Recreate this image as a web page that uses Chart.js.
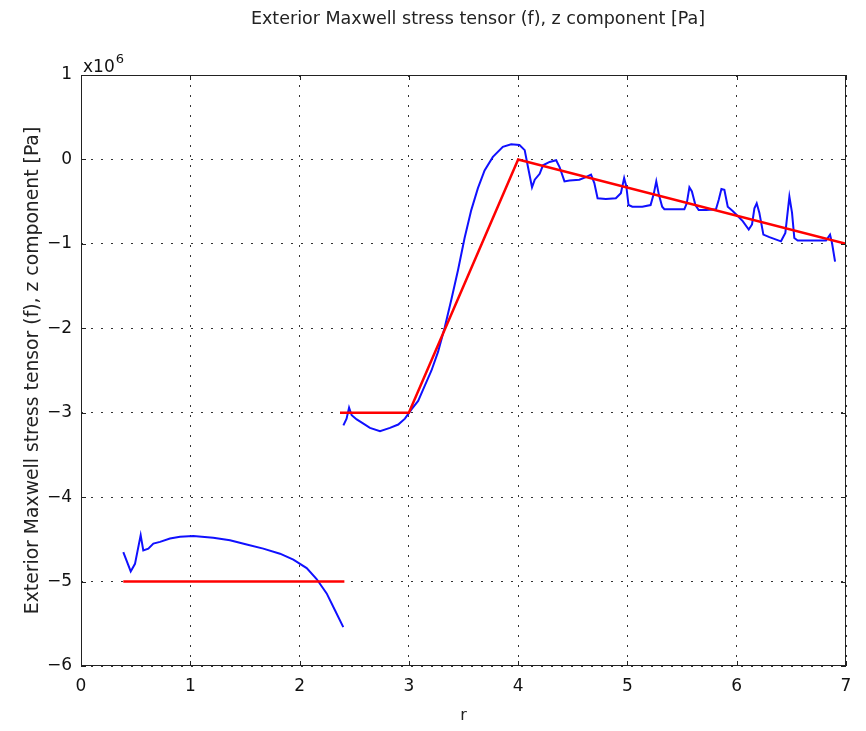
<!DOCTYPE html>
<html>
<head>
<meta charset="utf-8">
<script src="https://cdn.jsdelivr.net/npm/chart.js@4/dist/chart.umd.min.js"></script>
<style>
  html, body { margin: 0; padding: 0; background: #fff; }
  #wrap { width: 866px; height: 731px; }
</style>
</head>
<body>
<div id="wrap"><canvas id="chart" width="866" height="731"></canvas></div>
<script>
// values in units of 1e6 Pa (axis shows x10^6)
const blueR1 = [0.387, 0.455, 0.494, 0.546, 0.570, 0.616, 0.662, 0.723, 0.814, 0.906, 1.027, 1.21, 1.363, 1.516, 1.668, 1.821, 1.943, 2.065, 2.156, 2.248, 2.324, 2.40];
const blueZ1 = [-4.65, -4.88, -4.79, -4.45, -4.63, -4.61, -4.55, -4.53, -4.49, -4.47, -4.46, -4.48, -4.51, -4.56, -4.61, -4.67, -4.74, -4.84, -4.97, -5.14, -5.34, -5.54];

const blueR2 = [2.401, 2.43, 2.453, 2.477, 2.523, 2.584, 2.644, 2.736, 2.827, 2.903, 2.964, 3.024, 3.085, 3.146, 3.207, 3.267, 3.328, 3.389, 3.45, 3.51, 3.571, 3.632, 3.693, 3.769, 3.86, 3.936, 4.012,
  4.06, 4.09, 4.127, 4.152, 4.197, 4.227, 4.288, 4.348, 4.379, 4.424, 4.47, 4.56, 4.62, 4.667, 4.697, 4.727, 4.803, 4.894, 4.94, 4.97, 4.99, 5.01, 5.045, 5.136, 5.212, 5.242, 5.264, 5.288, 5.318,
  5.338, 5.415, 5.521, 5.543, 5.567, 5.59, 5.622, 5.652, 5.72, 5.81, 5.835, 5.86, 5.887, 5.918, 5.963, 6.009, 6.055, 6.11, 6.14, 6.162, 6.183, 6.207, 6.244, 6.299, 6.405, 6.445, 6.482, 6.506, 6.527, 6.558, 6.665, 6.817, 6.854, 6.872, 6.90];
const blueZ2 = [-3.15, -3.07, -2.94, -3.03, -3.08, -3.13, -3.18, -3.22, -3.18, -3.14, -3.07, -2.96, -2.86, -2.68, -2.50, -2.28, -1.99, -1.66, -1.31, -0.93, -0.60, -0.34, -0.13, 0.03, 0.15, 0.18, 0.17,
  0.11, -0.09, -0.33, -0.24, -0.17, -0.07, -0.03, -0.01, -0.09, -0.26, -0.25, -0.24, -0.21, -0.18, -0.28, -0.46, -0.47, -0.46, -0.40, -0.22, -0.32, -0.54, -0.56, -0.56, -0.54, -0.40, -0.26, -0.42, -0.56,
  -0.59, -0.59, -0.59, -0.52, -0.33, -0.38, -0.54, -0.60, -0.60, -0.59, -0.48, -0.35, -0.36, -0.56, -0.61, -0.67, -0.73, -0.83, -0.77, -0.58, -0.52, -0.63, -0.89, -0.92, -0.97, -0.87, -0.44, -0.63, -0.93, -0.96, -0.96, -0.96, -0.89, -0.99, -1.21];

const redR1 = [0.387, 2.41];
const redZ1 = [-5, -5];
const redR2 = [2.37, 3, 4, 7];
const redZ2 = [-3, -3, 0, -1];

const xTicks = [0, 1, 2, 3, 4, 5, 6, 7];
const yTicks = [1, 0, -1, -2, -3, -4, -5, -6];

const titleText = 'Exterior Maxwell stress tensor (f), z component [Pa]';
const FONT = "'DejaVu Sans', sans-serif";

function pts(xs, ys) {
    return xs.map((x, i) => ({ x: x, y: ys[i] }));
}

// title, box, inward ticks and the x10^6 multiplier
const frame = {
    id: 'frame',
    afterDraw(chart) {
        const { ctx, chartArea: a, scales } = chart;
        ctx.save();
        ctx.strokeStyle = '#222';
        ctx.lineWidth = 1;
        ctx.strokeRect(a.left + 0.5, a.top + 0.5, a.right - a.left - 1, a.bottom - a.top - 1);
        ctx.beginPath();
        xTicks.forEach(v => {
            const px = Math.round(scales.x.getPixelForValue(v)) + 0.5;
            ctx.moveTo(px, a.bottom); ctx.lineTo(px, a.bottom - 5);
            ctx.moveTo(px, a.top); ctx.lineTo(px, a.top + 5);
        });
        yTicks.forEach(v => {
            const py = Math.round(scales.y.getPixelForValue(v)) + 0.5;
            ctx.moveTo(a.left, py); ctx.lineTo(a.left + 5, py);
            ctx.moveTo(a.right, py); ctx.lineTo(a.right - 5, py);
        });
        ctx.stroke();

        ctx.fillStyle = '#222';
        ctx.textAlign = 'center';
        ctx.textBaseline = 'middle';
        ctx.font = '17.5px ' + FONT;
        ctx.fillText(titleText, 478, 19);

        ctx.fillStyle = '#111';
        ctx.textBaseline = 'alphabetic';
        ctx.textAlign = 'left';
        ctx.font = '17px ' + FONT;
        ctx.fillText('x10', a.left + 2, a.top - 3);
        const w = ctx.measureText('x10').width;
        ctx.font = '13px ' + FONT;
        ctx.fillText('6', a.left + 2 + w + 1, a.top - 12);
        ctx.restore();
    }
};

new Chart(document.getElementById('chart'), {
    type: 'scatter',
    data: {
        datasets: [
            { data: pts(redR1, redZ1), borderColor: '#ff0000', borderWidth: 2.5, order: 0 },
            { data: pts(redR2, redZ2), borderColor: '#ff0000', borderWidth: 2.5, order: 0 },
            { data: pts(blueR1, blueZ1), borderColor: '#1010ff', borderWidth: 2, order: 1 },
            { data: pts(blueR2, blueZ2), borderColor: '#1010ff', borderWidth: 2, order: 1 }
        ]
    },
    options: {
        responsive: false,
        animation: false,
        showLine: true,
        elements: { point: { radius: 0, hoverRadius: 0 }, line: { tension: 0, fill: false } },
        layout: { padding: { left: 0, right: 20, top: 75, bottom: 0 } },
        plugins: {
            legend: { display: false },
            tooltip: { enabled: false },
            title: { display: false }
        },
        scales: {
            x: {
                type: 'linear',
                min: 0, max: 7,
                afterFit(s) { s.height = 65; },
                afterBuildTicks(s) { s.ticks = xTicks.map(v => ({ value: v })); },
                ticks: { color: '#111', font: { family: FONT, size: 17 }, padding: 10 },
                grid: { color: '#333', lineWidth: 1, drawTicks: false },
                border: { display: false, dash: [2, 8] },
                title: { display: true, text: 'r', color: '#222', font: { family: FONT, size: 16 }, padding: { top: 0, bottom: 6 } }
            },
            y: {
                type: 'linear',
                min: -6, max: 1,
                afterFit(s) { s.width = 81; },
                afterBuildTicks(s) { s.ticks = yTicks.map(v => ({ value: v })); },
                ticks: {
                    color: '#111', font: { family: FONT, size: 17 }, padding: 9,
                    callback: v => String(v).replace('-', '\u2212')
                },
                grid: { color: '#333', lineWidth: 1, drawTicks: false },
                border: { display: false, dash: [2, 8] },
                title: { display: true, text: titleText, color: '#222', font: { family: FONT, size: 18.8 }, padding: { top: 22, bottom: 0 } }
            }
        }
    },
    plugins: [frame]
});
</script>
</body>
</html>
